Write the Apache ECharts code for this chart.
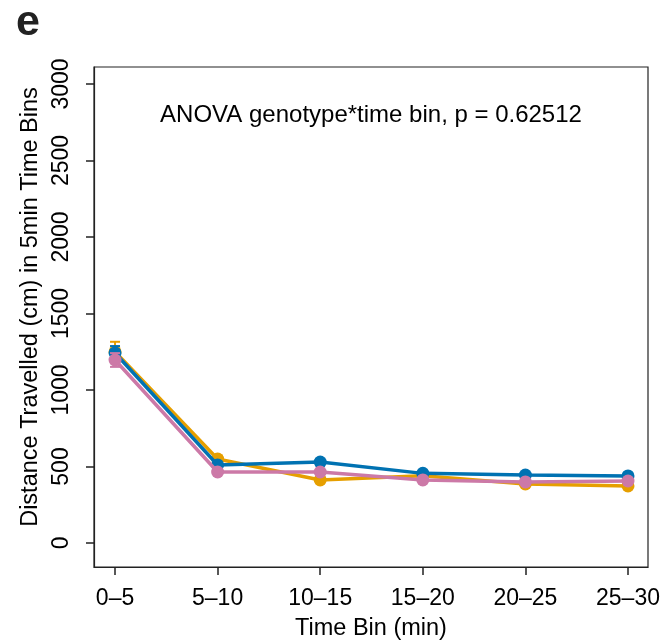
<!DOCTYPE html>
<html>
<head>
<meta charset="utf-8">
<script src="https://cdn.jsdelivr.net/npm/echarts@6/dist/echarts.min.js"></script>
<style>
  html, body { margin: 0; padding: 0; background: #fff; }
  #chart { width: 663px; height: 641px; }
</style>
</head>
<body>
<div id="chart"></div>
<script>
const timeBins = ['0–5', '5–10', '10–15', '15–20', '20–25', '25–30'];
const binIndex = [0, 1, 2, 3, 4, 5];
const yTicks = [0, 500, 1000, 1500, 2000, 2500, 3000];

// mean distance and standard error per genotype
const orangeMean = [1250, 549, 412, 440, 386, 373];
const orangeErr = [65, 22, 18, 15, 15, 18];
const blueMean = [1242, 510, 529, 455, 444, 438];
const blueErr = [45, 18, 20, 18, 15, 15];
const pinkMean = [1196, 464, 464, 412, 399, 405];
const pinkErr = [45, 15, 15, 15, 15, 15];

const groups = [
  { name: 'genotype A', color: '#E69F00', mean: orangeMean, err: orangeErr },
  { name: 'genotype B', color: '#0072B2', mean: blueMean, err: blueErr },
  { name: 'genotype C', color: '#CC79A7', mean: pinkMean, err: pinkErr },
];

const font = 'Liberation Sans, Arial, Helvetica, sans-serif';

function errorBars(color) {
  return function (params, api) {
    const top = api.coord([api.value(0), api.value(2)]);
    const bot = api.coord([api.value(0), api.value(1)]);
    const half = 5;
    const style = { stroke: color, lineWidth: 2 };
    return {
      type: 'group',
      children: [
        { type: 'line', shape: { x1: top[0], y1: top[1], x2: bot[0], y2: bot[1] }, style },
        { type: 'line', shape: { x1: top[0] - half, y1: top[1], x2: top[0] + half, y2: top[1] }, style },
        { type: 'line', shape: { x1: bot[0] - half, y1: bot[1], x2: bot[0] + half, y2: bot[1] }, style },
      ],
    };
  };
}

const series = [];
groups.forEach((g, k) => {
  series.push({
    name: g.name,
    type: 'custom',
    renderItem: errorBars(g.color),
    data: g.mean.map((m, i) => [i, m - g.err[i], m + g.err[i]]),
    z: 2 + k * 2,
    silent: true,
  });
  series.push({
    name: g.name,
    type: 'line',
    data: g.mean.map((m, i) => [i, m]),
    symbol: 'circle',
    symbolSize: 13,
    itemStyle: { color: g.color },
    lineStyle: { color: g.color, width: 3.5 },
    z: 3 + k * 2,
  });
});

const chart = echarts.init(document.getElementById('chart'));
chart.setOption({
  animation: false,
  title: {
    text: 'ANOVA genotype*time bin, p = 0.62512',
    left: 366,
    top: 98,
    textAlign: 'center',
    textStyle: { fontFamily: font, fontSize: 24, fontWeight: 'normal', color: '#000' },
  },
  graphic: [{
    type: 'text',
    left: 16,
    top: 2,
    style: { text: 'e', font: 'bold 43px ' + font, fill: '#222' },
  }],
  grid: {
    left: 94, right: 15, top: 67, bottom: 74,
    outerBoundsMode: 'none',
    containLabel: false,
    show: true,
    borderColor: '#222',
    borderWidth: 1.2,
  },
  xAxis: {
    type: 'value',
    min: -0.205,
    max: 5.195,
    name: 'Time Bin (min)',
    nameLocation: 'middle',
    nameGap: 50,
    nameTextStyle: { fontFamily: font, fontSize: 23.5, color: '#000' },
    axisLine: { show: true, onZero: false, lineStyle: { color: '#222', width: 1.2 } },
    axisTick: { show: true, inside: false, length: 8, lineStyle: { color: '#222', width: 1.5 }, customValues: binIndex },
    axisLabel: {
      customValues: binIndex,
      formatter: (v) => timeBins[Math.round(v)],
      fontFamily: font, fontSize: 23, color: '#000', margin: 20,
    },
    splitLine: { show: false },
  },
  yAxis: {
    type: 'value',
    min: -157,
    max: 3111,
    name: 'Distance Travelled (cm) in 5min Time Bins',
    nameLocation: 'middle',
    nameGap: 50,
    nameTextStyle: { fontFamily: font, fontSize: 23.5, color: '#000', padding: [0, 0, 0, 20] },
    axisLine: { show: true, onZero: false, lineStyle: { color: '#222', width: 1.2 } },
    axisTick: { show: true, inside: false, length: 8, lineStyle: { color: '#222', width: 1.5 }, customValues: yTicks },
    axisLabel: {
      customValues: yTicks,
      formatter: (v) => String(v),
      rotate: 90,
      fontFamily: font, fontSize: 23, color: '#000', margin: 21,
    },
    splitLine: { show: false },
  },
  series: series,
});
</script>
</body>
</html>
